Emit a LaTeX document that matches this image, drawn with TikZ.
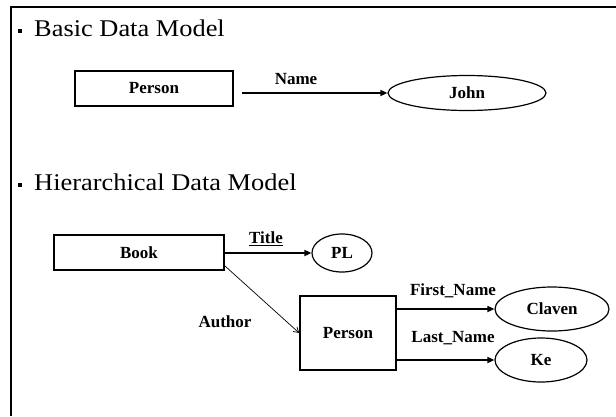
\documentclass[tikz,border=0pt]{standalone}
\usepackage{fontspec}
\usepackage{graphicx}
\setmainfont{Liberation Serif}
\usetikzlibrary{arrows.meta,shapes.geometric}
\newcommand{\wide}[1]{\scalebox{1.1}[1]{#1}}
\begin{document}
\begin{tikzpicture}[x=1pt,y=-1pt,
  heading/.style={anchor=base west,inner sep=0pt,font=\fontsize{24}{26}\selectfont},
  bul/.style={fill=black,minimum size=4pt,inner sep=0pt},
  entity/.style={draw,line width=1.6pt,inner sep=0pt,font=\fontsize{17}{19}\selectfont\bfseries},
  value/.style={draw,ellipse,line width=1.2pt,inner sep=0pt,font=\fontsize{17}{19}\selectfont\bfseries},
  lbl/.style={inner sep=0pt,font=\fontsize{17}{19}\selectfont\bfseries},
  rel/.style={line width=1.6pt,-{Triangle[length=7pt,width=6pt]}},
  thinrel/.style={line width=0.7pt,-{Straight Barb[length=5pt,width=6pt]}}
]
\useasboundingbox (0,0) rectangle (616,416);
\fill[white] (0,0) rectangle (616,416);
% frame
\draw[line width=2pt] (11,416) -- (11,7) -- (616,7);

% headings
\node[bul] (b1) at (20,31) {};
\node[heading] (h1) at (34,36) {\wide{Basic Data Model}};
\node[bul] (b2) at (20,185) {};
\node[heading] (h2) at (34,190) {\wide{Hierarchical Data Model}};

% basic model
\node[entity,minimum width=158pt,minimum height=35pt] (p1) at (154,88.5) {Person};
\node[value,minimum width=158pt,minimum height=35pt] (john) at (467,93) {John};
\coordinate (p1a) at (242,93);
\draw[rel] (p1a) -- (john.west);
\node[lbl] (nm) at (296,79) {Name};

% hierarchical model
\node[entity,minimum width=170pt,minimum height=35pt] (book) at (139,252.5) {Book};
\node[value,minimum width=60pt,minimum height=38pt] (pl) at (342,253) {PL};
\draw[rel] (book.east |- pl.west) -- (pl.west);
\node[lbl] (ttl) at (266,239) {\underline{Title}};

\node[entity,minimum width=96pt,minimum height=74pt] (p2) at (348,333) {Person};
\coordinate (bk) at (225,266);
\draw[thinrel] (bk) -- (p2.west);
\node[lbl] (au) at (225,322) {Author};

\node[value,minimum width=114pt,minimum height=44pt] (cl) at (552,309) {Claven};
\node[value,minimum width=92pt,minimum height=44pt] (ke) at (541,360) {Ke};
\draw[rel] (p2.east |- cl.west) -- (cl.west);
\draw[rel] (p2.east |- ke.west) -- (ke.west);
\node[lbl] (fn) at (453,291) {First\_Name};
\node[lbl] (ln) at (453,338) {Last\_Name};
\end{tikzpicture}
\end{document}
